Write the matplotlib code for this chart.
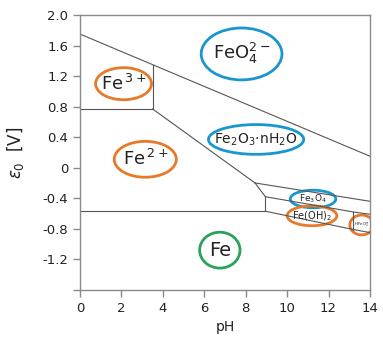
import matplotlib
matplotlib.use("Agg")
import matplotlib.pyplot as plt
from matplotlib.patches import Ellipse

# boundary lines of the iron Pourbaix diagram (pH, E0 in V)
feo4_upper = [(0.0, 1.75), (14.0, 0.15)]
fe3_fe2 = [(0.0, 0.77), (3.5, 0.77)]
fe3_fe2o3 = [(3.5, 0.77), (3.5, 1.35)]
fe2_fe2o3 = [(3.5, 0.77), (8.45, -0.20)]
fe2_fe3o4 = [(8.45, -0.20), (8.95, -0.38)]
fe2_feoh2 = [(8.95, -0.38), (8.95, -0.57)]
fe2_fe = [(0.0, -0.57), (8.95, -0.57)]
fe2o3_fe3o4 = [(8.45, -0.20), (14.0, -0.44)]
fe3o4_lower = [(8.95, -0.38), (13.2, -0.58), (14.0, -0.61)]
fe_lower = [(8.95, -0.57), (13.2, -0.81), (14.0, -0.85)]
feoh2_hfeo2 = [(13.2, -0.58), (13.2, -0.81)]

boundaries = [feo4_upper, fe3_fe2, fe3_fe2o3, fe2_fe2o3, fe2_fe3o4, fe2_feoh2,
              fe2_fe, fe2o3_fe3o4, fe3o4_lower, fe_lower, feoh2_hfeo2]

# species labels: text, centre (pH, E), ellipse width/height, colour, font size
species = [
    (r'Fe$^{\,3+}$', (2.1, 1.1), 2.7, 0.42, 'orange', 13),
    (r'FeO$_4^{2-}$', (7.8, 1.49), 3.9, 0.68, 'blue', 13),
    (r'Fe$_2$O$_3$$\cdot$nH$_2$O', (8.5, 0.37), 4.6, 0.39, 'blue', 10),
    (r'Fe$^{\,2+}$', (3.15, 0.11), 3.0, 0.47, 'orange', 13),
    (r'Fe$_3$O$_4$', (11.25, -0.41), 2.2, 0.23, 'blue', 6.5),
    (r'Fe(OH)$_2$', (11.2, -0.63), 2.4, 0.26, 'orange', 7),
    (r'HFeO$_2^-$', (13.6, -0.75), 1.15, 0.26, 'orange', 3),
    ('Fe', (6.75, -1.08), 1.95, 0.47, 'green', 14),
]
edge_colours = {'orange': '#e8792b', 'blue': '#1a96cf', 'green': '#27a35a'}

fig = plt.figure(figsize=(3.83, 3.41), dpi=100)
ax = fig.add_axes((0.209, 0.150, 0.757, 0.806))

for seg in boundaries:
    xs = [p[0] for p in seg]
    ys = [p[1] for p in seg]
    ax.plot(xs, ys, color='#555555', linewidth=0.8)

for text, (cx, cy), w, h, col, fs in species:
    ax.add_patch(Ellipse((cx, cy), w, h, fill=False,
                         edgecolor=edge_colours[col], linewidth=2.0))
    ax.text(cx, cy, text, ha='center', va='center', fontsize=fs, color='#222222')

ax.set_xlim(0, 14)
ax.set_ylim(-1.6, 2.0)
ax.set_xticks(range(0, 15, 2))
yt = [2.0, 1.6, 1.2, 0.8, 0.4, 0, -0.4, -0.8, -1.2, -1.6]
ax.set_yticks(yt)
ax.set_yticklabels(['2.0', '1.6', '1.2', '0.8', '0.4', '0', '-0.4', '-0.8', '-1.2', ''])

for s in ax.spines.values():
    s.set_color('#8a8a8a')
    s.set_linewidth(1.0)
ax.tick_params(direction='out', length=5, width=1.0, color='#8a8a8a',
               labelsize=9.5, labelcolor='#222222')

ax.set_xlabel('pH', fontsize=10, color='#222222')
ax.set_ylabel(r'$\varepsilon_0$  [V]', fontsize=12, color='#222222', labelpad=12)

fig.savefig('out.png', dpi=100)
